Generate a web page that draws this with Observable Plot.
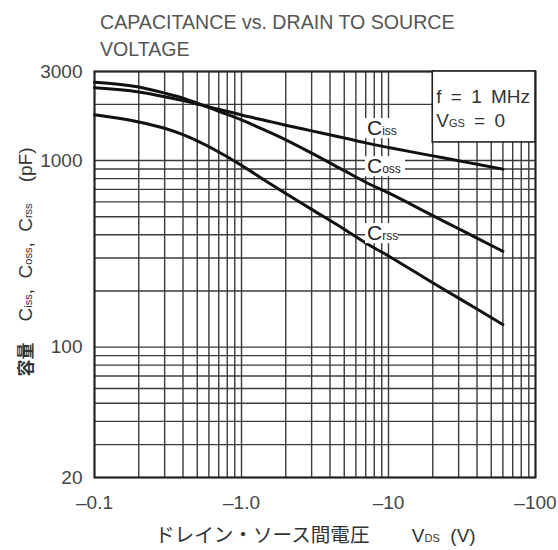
<!DOCTYPE html>
<html>
<head>
<meta charset="utf-8">
<script src="https://cdn.jsdelivr.net/npm/d3@7"></script>
<script src="https://cdn.jsdelivr.net/npm/@observablehq/plot@0.6"></script>
<style>
  body { margin: 0; background: #fff; }
  #wrap { position: relative; width: 558px; height: 550px; font-family: "Liberation Sans", Arial, sans-serif; }
  #title { position: absolute; left: 100px; top: 9px; font-size: 19.6px; line-height: 27px; color: #555; }
  svg text { white-space: pre; }
</style>
</head>
<body>
<div id="wrap"><div id="title">CAPACITANCE vs. DRAIN TO SOURCE<br>VOLTAGE</div></div>
<script>
// Drain-source voltage (V) and capacitances (pF)
const vds  = [-0.1, -0.2, -0.3, -0.4, -0.5, -0.7, -1.0, -1.5, -2, -3, -5, -7, -10, -20, -30, -40, -60];
const ciss = [2453, 2329, 2197, 2094, 2008, 1881, 1753, 1630, 1547, 1442, 1321, 1243, 1174, 1059, 997, 955, 899];
const coss = [2629, 2477, 2297, 2160, 2031, 1837, 1652, 1433, 1290, 1095, 882, 765, 670, 507, 431, 384, 326];
const crss = [1757, 1610, 1489, 1375, 1273, 1111, 942, 767, 665, 547, 428, 361, 308, 221, 183, 160, 132];

const seriesNames = ["iss", "oss", "rss"];
const seriesValues = [ciss, coss, crss];

// Axis ticks and labels
const xTicks = [-0.1, -1, -10, -100];
const xTickLabels = ["–0.1", "–1.0", "–10", "–100"];
const yTicks = [20, 100, 1000, 3000];
const yTickLabels = ["20", "100", "1000", "3000"];

// Annotations (data units)
const curveLabelV = [-7.2, -7.2, -7.2];
const curveLabelC = [1360, 850, 372];
const condLines = [["f = 1 MHz"], ["V", "GS", " = 0"]];

// log grid lines
const gridX = [];
for (const d of [0.1, 1, 10]) for (let k = 1; k < 10; k++) gridX.push(-k * d);
gridX.push(-100);
const gridY = [];
for (const d of [10, 100, 1000]) for (let k = 1; k < 10; k++) { const v = k * d; if (v >= 20 && v <= 3000) gridY.push(v); }

const rows = [];
seriesNames.forEach((s, j) => vds.forEach((v, i) => rows.push({ s, v, c: seriesValues[j][i] })));

const xLab = new Map(xTicks.map((t, i) => [t, xTickLabels[i]]));
const yLab = new Map(yTicks.map((t, i) => [t, yTickLabels[i]]));

const plot = Plot.plot({
  width: 558, height: 550,
  marginLeft: 94, marginRight: 23, marginTop: 71, marginBottom: 73,
  style: { fontFamily: '"Liberation Sans", Arial, sans-serif', background: "transparent", color: "#444" },
  x: { type: "log", domain: [-0.1, -100] },
  y: { type: "log", domain: [20, 3000] },
  marks: [
    Plot.ruleX(gridX, { stroke: "#3a3a3a", strokeWidth: 1.4 }),
    Plot.ruleY(gridY, { stroke: "#3a3a3a", strokeWidth: 1.4 }),
    Plot.frame({ stroke: "#222", strokeWidth: 2 }),
    Plot.line(rows, { x: "v", y: "c", z: "s", stroke: "#111", strokeWidth: 3, curve: "monotone-x" }),
    Plot.axisX({ ticks: xTicks, tickFormat: d => xLab.get(d), tickSize: 0, tickPadding: 18, fontSize: 19, label: null, fill: "#444" }),
    Plot.axisY({ ticks: yTicks, tickFormat: d => yLab.get(d), tickSize: 0, tickPadding: 12, fontSize: 19, label: null, fill: "#444" })
  ]
});
document.getElementById("wrap").prepend(plot);

const svg = d3.select(plot);
const sx = plot.scale("x"), sy = plot.scale("y");
const cjk = '"Noto Sans CJK JP", sans-serif';

// conditions box
const bx = sx.apply(-20), bxr = sx.apply(-100), by = sy.apply(3000), byb = sy.apply(1250);
const g = svg.append("g").attr("text-anchor", "start");
g.append("rect").attr("x", bx).attr("y", by).attr("width", bxr - bx).attr("height", byb - by)
  .attr("fill", "#fff").attr("stroke", "#222").attr("stroke-width", 1.6);
condLines.forEach((parts, i) => {
  const t = g.append("text").attr("x", bx + 4).attr("y", by + 32 + i * 24)
    .attr("font-size", 19).attr("fill", "#333").attr("word-spacing", 4);
  if (parts.length === 1) t.text(parts[0]);
  else {
    t.append("tspan").text(parts[0]);
    t.append("tspan").attr("font-size", 11).text(parts[1]);
    t.append("tspan").text(parts[2]);
  }
});

// curve labels
const gl = svg.append("g").attr("text-anchor", "start");
seriesNames.forEach((s, i) => {
  const x = sx.apply(curveLabelV[i]), y = sy.apply(curveLabelC[i]);
  gl.append("rect").attr("x", x - 2).attr("y", y - 17).attr("width", s === "oss" ? 40 : 33).attr("height", 20).attr("fill", "#fff");
  const t = gl.append("text").attr("x", x).attr("y", y).attr("fill", "#222");
  t.append("tspan").attr("font-size", 21).text("C");
  t.append("tspan").attr("font-size", 12).text(s);
});

// x axis title
const xt = svg.append("text").attr("x", 155).attr("y", 542)
  .attr("text-anchor", "start").attr("fill", "#333").attr("font-size", 19);
xt.append("tspan").attr("font-family", cjk).attr("font-size", 19.6).text("ドレイン・ソース間電圧");
xt.append("tspan").text("        V");
xt.append("tspan").attr("font-size", 11).text("DS");
xt.append("tspan").text("  (V)");

// y axis title
const yt = svg.append("text").attr("transform", "translate(32,262) rotate(-90)")
  .attr("text-anchor", "middle").attr("fill", "#333").attr("font-size", 19);
yt.append("tspan").attr("font-family", cjk).attr("font-weight", "bold").attr("font-size", 17).text("容量");
[["    C", "iss"], [",  C", "oss"], [",  C", "rss"]].forEach(([a, b]) => {
  yt.append("tspan").text(a);
  yt.append("tspan").attr("font-size", 11).text(b);
});
yt.append("tspan").text("    (pF)");
</script>
</body>
</html>
